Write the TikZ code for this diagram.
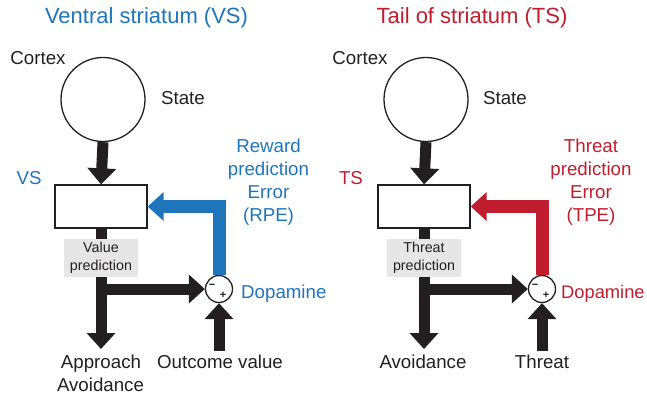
\documentclass[tikz,border=0pt]{standalone}
\usepackage{fontspec}
\setmainfont{Liberation Sans}
\usetikzlibrary{arrows.meta}
\definecolor{vsblue}{RGB}{30,117,188}
\definecolor{tsred}{RGB}{192,30,46}
\definecolor{ink}{RGB}{35,31,32}
\definecolor{labgray}{RGB}{230,230,231}
\tikzset{
  lbl/.style={font=\fontsize{18.7}{23}\selectfont, inner sep=0pt, anchor=base, text=ink},
  ttl/.style={font=\fontsize{22}{26}\selectfont, inner sep=0pt, anchor=base},
  ctx/.style={circle, draw=ink, line width=1.3pt, minimum size=84pt, inner sep=0pt},
  strbox/.style={draw=ink, line width=1.3pt, minimum width=92pt, minimum height=43pt, inner sep=0pt, fill=white},
  dacirc/.style={circle, draw=ink, line width=1.3pt, minimum size=27pt, inner sep=0pt, fill=white},
  predlbl/.style={fill=labgray, minimum width=74pt, minimum height=38pt, inner sep=0pt, align=center,
    font=\fontsize{14.3}{18}\selectfont, text=ink},
  fat/.style={draw=ink, line width=11pt, -{Triangle[width=28pt,length=16pt]}},
  fatc/.style={draw=#1, line width=13pt, line join=miter, -{Triangle[width=28pt,length=16pt]}},
  sgn/.style={font=\fontsize{11}{11}\selectfont\bfseries, inner sep=0pt, text=ink},
}
\begin{document}
\begin{tikzpicture}[x=1pt,y=-1pt]
\useasboundingbox (0,0) rectangle (647,395);
% ---------- Left panel: Ventral striatum ----------
\node[ttl, text=vsblue] (tL) at (146.5,24) {Ventral striatum (VS)};
\node[lbl] (cxL) at (38,65) {Cortex};
\node[ctx] (ctxL) at (103,99.5) {};
\node[lbl] (stL) at (183,105) {State};
\node[lbl, text=vsblue] (vsL) at (29,185) {VS};
\node[strbox] (boxL) at (101,206.5) {};
\node[dacirc] (daL) at (219,289) {};
\node[sgn] (mL) at (212,286) {\textminus};
\node[sgn] (pL) at (223,295) {+};
\node[lbl, text=vsblue, anchor=base west] (dpL) at (241,298) {Dopamine};
\node[lbl, text=vsblue, align=center] (rpe) at (268.5,222) {Reward\\prediction\\Error\\(RPE)};
\coordinate (actL) at (101,349);
\coordinate (outL) at (219,351);
\draw[fat] (ctxL.south) -- (boxL.north);
\draw[fat] (boxL.south) -- (actL);
\draw[fat] (boxL.south |- daL.west) -- (daL.west);
\draw[fat] (outL) -- (daL.south);
\draw[fatc=vsblue] (daL.north) |- (boxL.east);
\node[predlbl] (vpL) at (101,258) {Value\\prediction};
\node[lbl] (apL) at (101,368) {Approach};
\node[lbl] (avL) at (100.5,391) {Avoidance};
\node[lbl] (ovL) at (220,368) {Outcome value};
% ---------- Right panel: Tail of striatum ----------
\node[ttl, text=tsred] (tR) at (472,24) {Tail of striatum (TS)};
\node[lbl] (cxR) at (360,65) {Cortex};
\node[ctx] (ctxR) at (426,99.5) {};
\node[lbl] (stR) at (505,105) {State};
\node[lbl, text=tsred] (tsR) at (351,185) {TS};
\node[strbox] (boxR) at (424,206.5) {};
\node[dacirc] (daR) at (542,289) {};
\node[sgn] (mR) at (535,286) {\textminus};
\node[sgn] (pR) at (546,295) {+};
\node[lbl, text=tsred, anchor=base west, font=\fontsize{18.3}{23}\selectfont] (dpR) at (561,298) {Dopamine};
\node[lbl, text=tsred, align=center] (tpe) at (591,222) {Threat\\prediction\\Error\\(TPE)};
\coordinate (actR) at (424,349);
\coordinate (outR) at (542,351);
\draw[fat] (ctxR.south) -- (boxR.north);
\draw[fat] (boxR.south) -- (actR);
\draw[fat] (boxR.south |- daR.west) -- (daR.west);
\draw[fat] (outR) -- (daR.south);
\draw[fatc=tsred] (daR.north) |- (boxR.east);
\node[predlbl] (tpR) at (424,258) {Threat\\prediction};
\node[lbl] (avR) at (423,368) {Avoidance};
\node[lbl] (thR) at (542,368) {Threat};
\end{tikzpicture}
\end{document}
